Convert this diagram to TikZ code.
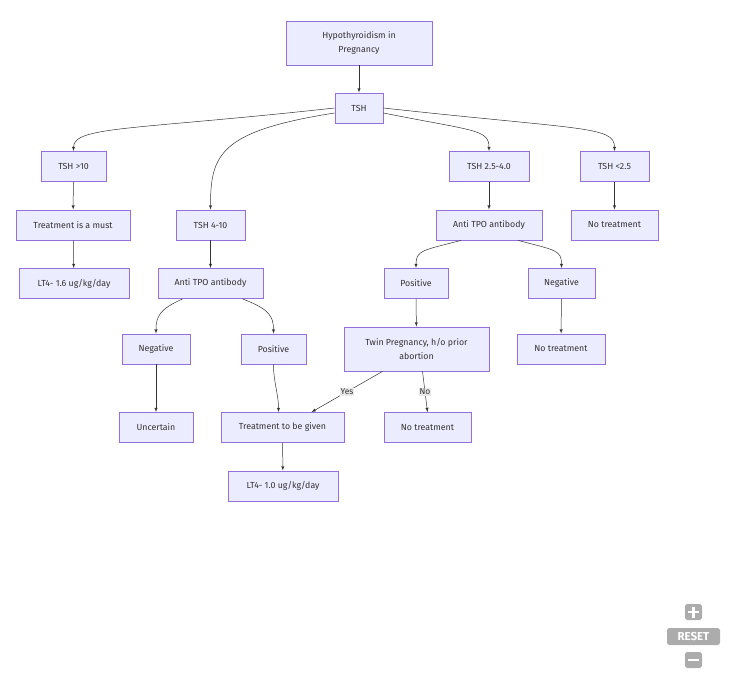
\documentclass[tikz,border=0pt]{standalone}
\usepackage{fontspec}
\setmainfont{Fira Sans}
\usetikzlibrary{arrows, positioning}
\definecolor{boxfill}{HTML}{ECECFF}
\definecolor{boxline}{HTML}{9370DB}
\definecolor{edgecol}{HTML}{333333}
\definecolor{labelbg}{HTML}{E8E8E8}
\definecolor{btncol}{HTML}{ACACAC}

\begin{document}
\begin{tikzpicture}[x=1pt, y=1pt,
			>=latex,
			font=\fontsize{8.8}{14}\selectfont,
			box/.style={draw=boxline, fill=boxfill, line width=0.8pt, minimum height=30pt, inner sep=0pt, align=center, text=edgecol},
			edge/.style={->, draw=edgecol, line width=0.5pt},
			lab/.style={fill=labelbg, inner sep=1pt, text=edgecol, font=\fontsize{8.5}{9}\selectfont},
			btn/.style={fill=btncol, rounded corners=2.5pt, inner sep=0pt, text=white}]

			\useasboundingbox (0,0) rectangle (732,-677);

			% top of the tree
			\node[box, minimum width=146pt, minimum height=44pt] (hypo) at (359,-43) {Hypothyroidism in\\Pregnancy};
			\node[box, minimum width=48pt] (tsh) at (359,-108) {TSH};

			% TSH levels
			\node[box, minimum width=65pt] (gt10) at (73.5,-166.5) {TSH >10};
			\node[box, minimum width=69pt] (t410) at (210.5,-225) {TSH 4-10};
			\node[box, minimum width=80pt] (t2540) at (489,-166.5) {TSH 2.5-4.0};
			\node[box, minimum width=69pt] (lt25) at (614.5,-166.5) {TSH <2.5};

			% left branch
			\node[box, minimum width=114pt] (must) at (73,-225) {Treatment is a must};
			\node[box, minimum width=110pt] (lt4a) at (74,-283.5) {LT4- 1.6 ug/kg/day};
			\node[box, minimum width=105pt] (atpoL) at (210.5,-283.5) {Anti TPO antibody};
			\node[box, minimum width=68pt] (negL) at (156,-349) {Negative};
			\node[box, minimum width=65pt] (posL) at (273.5,-349) {Positive};
			\node[box, minimum width=74pt] (unc) at (156,-427.5) {Uncertain};
			\node[box, minimum width=123pt] (given) at (282.5,-427.5) {Treatment to be given};
			\node[box, minimum width=110pt] (lt4b) at (283,-486) {LT4- 1.0 ug/kg/day};

			% right branch
			\node[box, minimum width=106pt] (atpoR) at (489,-225) {Anti TPO antibody};
			\node[box, minimum width=87pt] (ntA) at (614.5,-225) {No treatment};
			\node[box, minimum width=64pt] (posR) at (416,-283.5) {Positive};
			\node[box, minimum width=67pt] (negR) at (561.5,-283.5) {Negative};
			\node[box, minimum width=145pt, minimum height=44pt] (twin) at (416.5,-349) {Twin Pregnancy, h/o prior\\abortion};
			\node[box, minimum width=88pt] (ntB) at (561,-349) {No treatment};
			\node[box, minimum width=87pt] (ntC) at (427.5,-427.5) {No treatment};

			% connectors
			\draw[edge] (hypo) -- (tsh);
			\draw[edge] (tsh.west) .. controls +(-200,-22) and +(0,25) .. (gt10.north);
			\draw[edge] ([yshift=-5pt]tsh.west) .. controls +(-115,-18) and +(0,55) .. (t410.north);
			\draw[edge] ([yshift=-5pt]tsh.east) .. controls +(90,-18) and +(0,22) .. (t2540.north);
			\draw[edge] (tsh.east) .. controls +(200,-22) and +(0,25) .. (lt25.north);
			\draw[edge] (gt10) -- (must);
			\draw[edge] (must) -- (lt4a);
			\draw[edge] (t410) -- (atpoL);
			\draw[edge] ([xshift=-28pt]atpoL.south) .. controls +(-22,-10) and +(0,18) .. (negL.north);
			\draw[edge] ([xshift=32pt]atpoL.south) .. controls +(26,-10) and +(0,18) .. (posL.north);
			\draw[edge] (negL) -- (unc);
			\draw[edge] (posL.south) .. controls +(0,-18) and +(0,18) .. ([xshift=-4pt]given.north);
			\draw[edge] (given) -- (lt4b);
			\draw[edge] (t2540) -- (atpoR);
			\draw[edge] (lt25) -- (ntA);
			\draw[edge] ([xshift=-28pt]atpoR.south) .. controls +(-38,-10) and +(0,18) .. (posR.north);
			\draw[edge] ([xshift=29pt]atpoR.south) .. controls +(38,-10) and +(0,18) .. (negR.north);
			\draw[edge] (posR) -- (twin);
			\draw[edge] (negR) -- (ntB);
			\draw[edge] ([xshift=-34pt]twin.south) -- node[lab] {Yes} ([xshift=29pt]given.north);
			\draw[edge] ([xshift=6pt]twin.south) -- node[lab] {No} (ntC.north);

			% zoom buttons
			\node[btn, minimum width=17pt, minimum height=16pt] (zin) at (693.5,-612) {};
			\node[btn, minimum width=53pt, minimum height=17pt, font=\bfseries\fontsize{11.5}{11.5}\selectfont] (reset) at (693.5,-636.5) {RESET};
			\node[btn, minimum width=17pt, minimum height=16pt] (zout) at (693.5,-660) {};
			\draw[white, line width=2.6pt] ([xshift=-5.5pt]zin.center) -- ([xshift=5.5pt]zin.center);
			\draw[white, line width=2.6pt] ([yshift=-5.5pt]zin.center) -- ([yshift=5.5pt]zin.center);
			\draw[white, line width=2.6pt] ([xshift=-5.5pt]zout.center) -- ([xshift=5.5pt]zout.center);
		\end{tikzpicture}
\end{document}
